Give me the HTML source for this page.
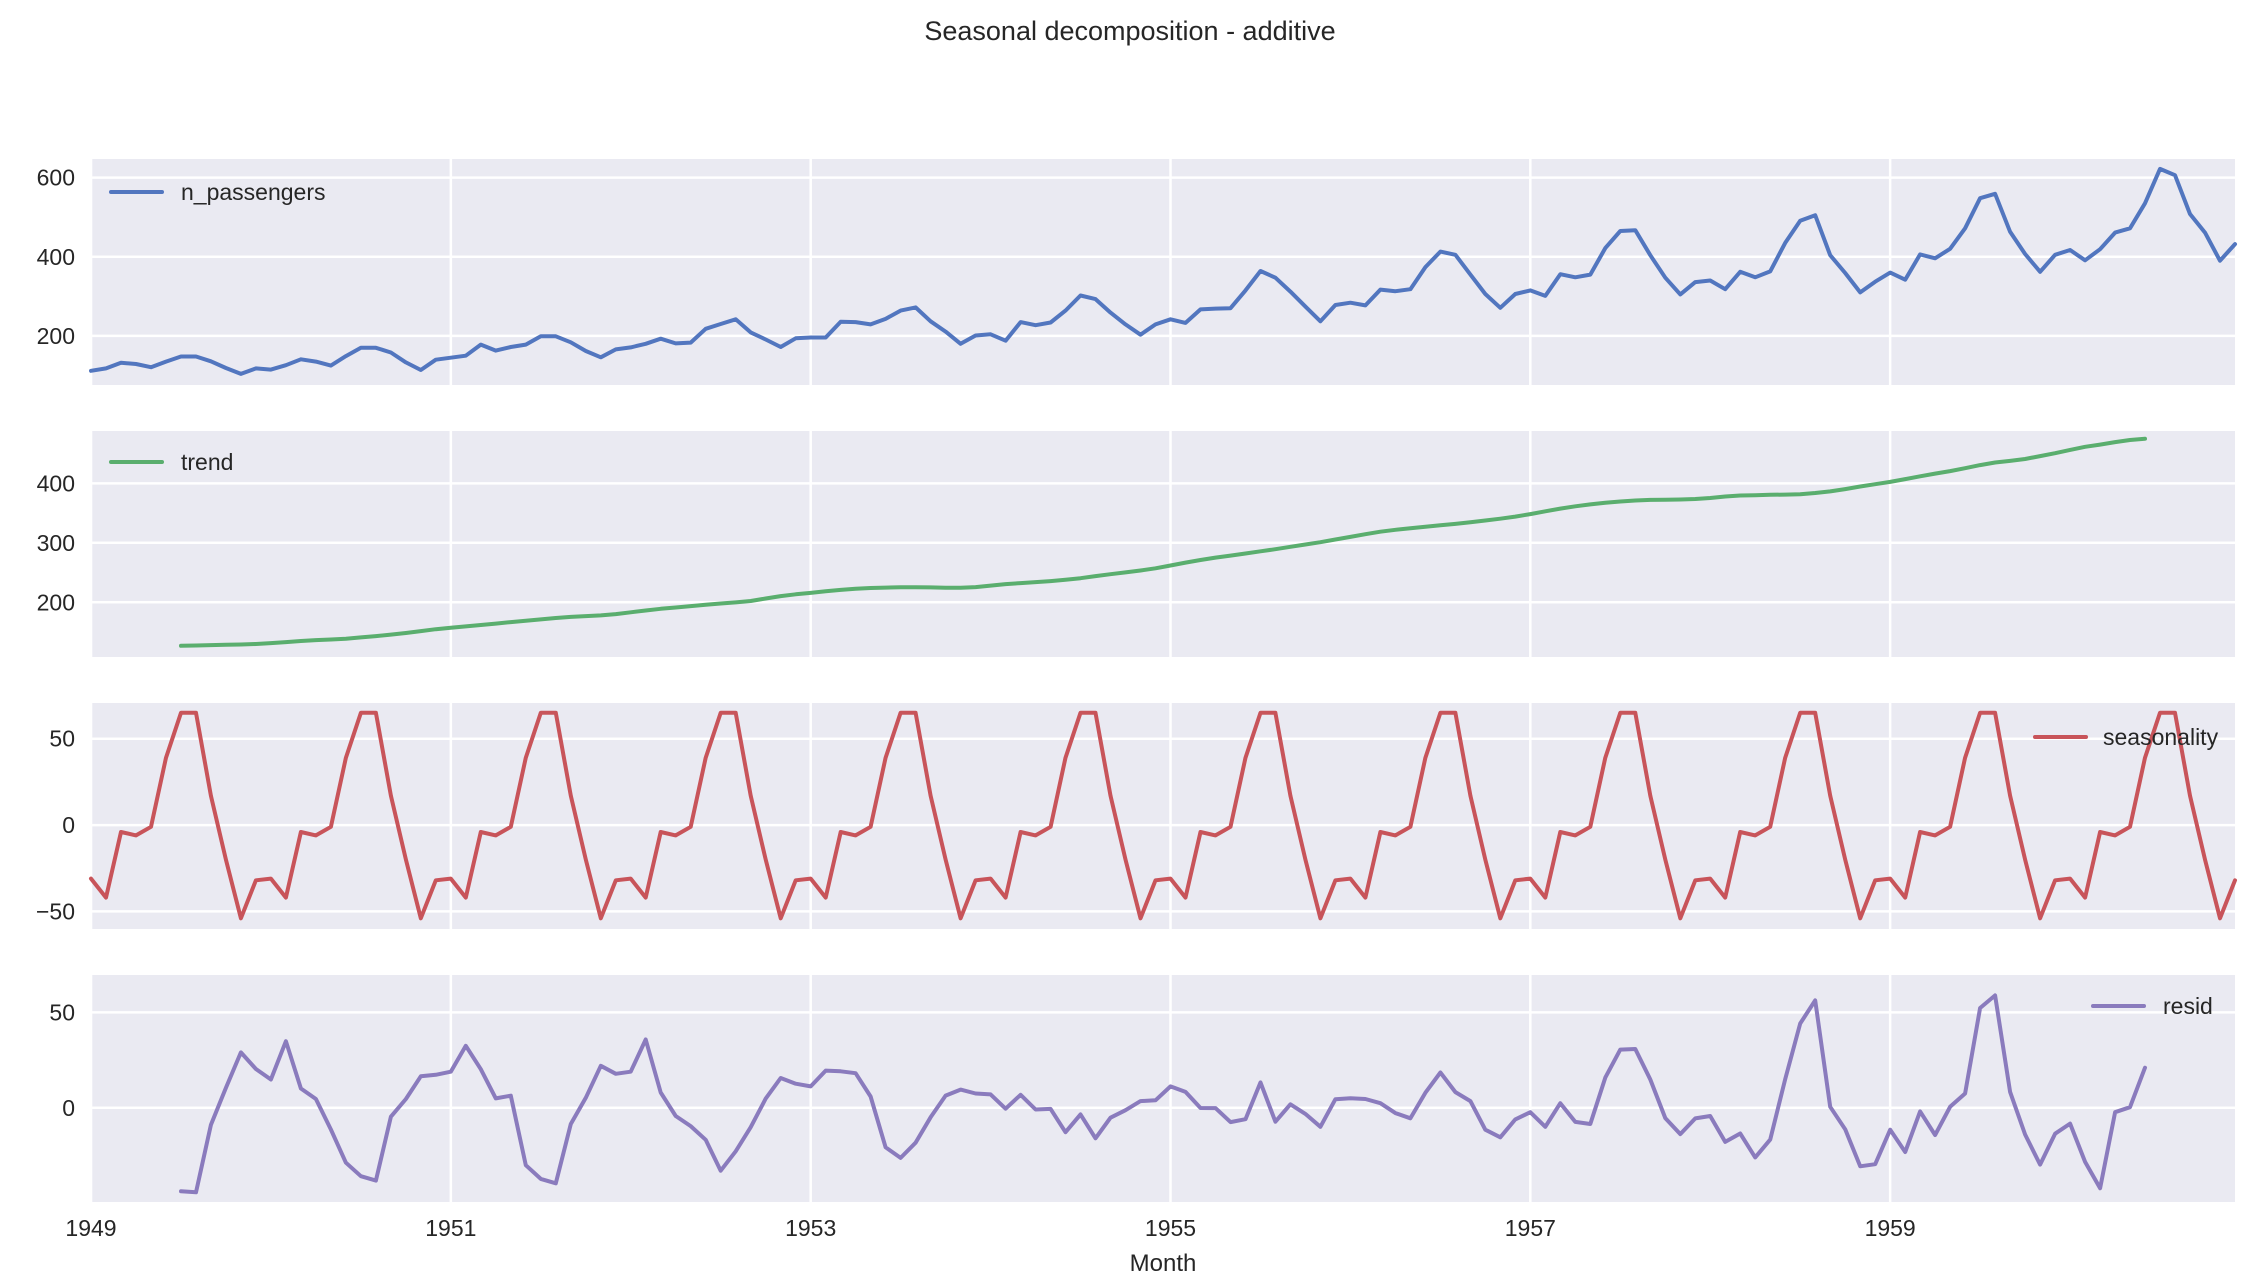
<!DOCTYPE html>
<html><head><meta charset="utf-8">
<style>
html,body{margin:0;padding:0;background:#fff;}
svg{display:block;font-family:"Liberation Sans",sans-serif;}
</style></head>
<body>
<svg id="chart" width="2260" height="1288" viewBox="0 0 2260 1288">
<text x="1130" y="40" text-anchor="middle" font-size="27" fill="#262626">Seasonal decomposition - additive</text>
<text x="1163" y="1271" text-anchor="middle" font-size="24" fill="#262626">Month</text>
</svg>
<script>
const years = [1949,1951,1953,1955,1957,1959];
const passengers = [112,118,132,129,121,135,148,148,136,119,104,118,
115,126,141,135,125,149,170,170,158,133,114,140,
145,150,178,163,172,178,199,199,184,162,146,166,
171,180,193,181,183,218,230,242,209,191,172,194,
196,196,236,235,229,243,264,272,237,211,180,201,
204,188,235,227,234,264,302,293,259,229,203,229,
242,233,267,269,270,315,364,347,312,274,237,278,
284,277,317,313,318,374,413,405,355,306,271,306,
315,301,356,348,355,422,465,467,404,347,305,336,
340,318,362,348,363,435,491,505,404,359,310,337,
360,342,406,396,420,472,548,559,463,407,362,405,
417,391,419,461,472,535,622,606,508,461,390,432];
const trendStart = 6;
const trend = [126.8,127.3,128.0,128.6,129.0,129.8,131.3,133.1,134.9,136.4,137.4,138.8,
140.9,143.2,145.7,148.4,151.5,154.7,157.1,159.5,161.8,164.1,166.7,169.1,
171.3,173.6,175.5,176.8,178.0,180.2,183.1,186.2,189.0,191.3,193.6,195.8,
198.0,199.8,202.2,206.3,210.4,213.4,215.8,218.5,220.9,222.9,224.1,224.7,
225.3,225.3,225.0,224.6,224.5,225.5,228.0,230.5,232.3,233.9,235.6,237.8,
240.5,244.0,247.2,250.3,253.5,257.1,261.8,266.7,271.1,275.2,278.5,282.0,
285.8,289.3,293.3,297.2,301.0,305.5,310.0,314.4,318.6,321.8,324.5,327.1,
329.5,331.8,334.5,337.5,340.5,344.1,348.3,353.0,357.6,361.4,364.5,367.2,
369.5,371.2,372.2,372.4,372.8,373.6,375.3,377.9,379.5,380.0,380.7,381.0,
381.8,383.7,386.5,390.3,394.7,398.6,402.5,407.2,411.9,416.3,420.5,425.5,
430.7,435.1,437.7,441.0,445.8,450.6,456.3,461.4,465.2,469.3,472.8,475.0];
const seasonPattern = [-31,-42,-4,-6,-1,39,65,65,17,-20,-54,-32];
const resid = [-43.8,-44.3,-9.0,10.4,29.0,20.3,14.8,34.9,10.1,4.6,-11.4,-28.8,
-35.9,-38.2,-4.7,4.6,16.5,17.3,18.9,32.5,20.2,4.9,6.3,-30.1,
-37.3,-39.6,-8.5,5.2,22.0,17.8,18.9,35.8,8.0,-4.3,-9.6,-16.8,
-33.0,-22.8,-10.2,4.8,15.6,12.6,11.2,19.5,19.1,18.1,5.9,-20.7,
-26.3,-18.3,-5.0,6.4,9.5,7.5,7.0,-0.5,6.8,-0.9,-0.6,-12.8,
-3.5,-16.0,-5.2,-1.3,3.5,3.9,11.2,8.3,-0.1,-0.2,-7.5,-6.0,
13.3,-7.3,1.8,-3.2,-10.0,4.5,5.0,4.6,2.4,-2.8,-5.5,7.9,
18.5,8.2,3.5,-11.5,-15.5,-6.1,-2.3,-10.0,2.4,-7.4,-8.5,15.8,
30.5,30.8,14.8,-5.4,-13.8,-5.6,-4.3,-17.9,-13.5,-26.0,-16.7,15.0,
44.2,56.3,0.5,-11.3,-30.7,-29.6,-11.5,-23.2,-1.9,-14.3,0.5,7.5,
52.3,58.9,8.3,-14.0,-29.8,-13.6,-8.3,-28.4,-42.2,-2.3,0.3,21.0];
const ticks1 = [200,400,600];
const ticks2 = [200,300,400];
const ticks3 = [-50,0,50];
const ticks4 = [0,50];

const NS = 'http://www.w3.org/2000/svg';
const svg = document.getElementById('chart');
const L = 91, R = 2235;
function x(i){ return L + i*(R-L)/143; }
function mk(tag, attrs, parent){
  const e = document.createElementNS(NS, tag);
  for (const k in attrs) e.setAttribute(k, attrs[k]);
  (parent||svg).appendChild(e);
  return e;
}
const panels = [
  {top:159,bottom:385,min:76,max:647,ticks:ticks1,name:'n_passengers',color:'#5276bf',legend:'left',ly:192},
  {top:431,bottom:657,min:108,max:488,ticks:ticks2,name:'trend',color:'#5aae6e',legend:'left',ly:462},
  {top:703,bottom:929,min:-60.2,max:70.7,ticks:ticks3,name:'seasonality',color:'#c8545a',legend:'right',ly:737},
  {top:975,bottom:1202,min:-49.4,max:69.6,ticks:ticks4,name:'resid',color:'#8a7bbd',legend:'right',ly:1006}
];
const seriesList = [
  passengers.map((v,i)=>[i,v]),
  trend.map((v,i)=>[i+trendStart,v]),
  passengers.map((v,i)=>[i,seasonPattern[i%12]]),
  resid.map((v,i)=>[i+trendStart,v])
];
panels.forEach((p,pi)=>{
  const g = mk('g',{});
  
  
  const y = v => p.bottom - (v-p.min)/(p.max-p.min)*(p.bottom-p.top);
  const bg = mk('rect',{x:L,y:p.top,width:R-L,height:p.bottom-p.top,fill:'#eaeaf2'},g);
  
  
  p.ticks.forEach(t=>{
    const yy = y(t);
    const gl = mk('line',{x1:L,x2:R,y1:yy,y2:yy,stroke:'#fff','stroke-width':2.5},g);
    
    
    const tl = mk('text',{x:L-16,y:yy+8,'text-anchor':'end','font-size':23,fill:'#262626'},g);
    tl.textContent = t<0 ? '\u2212'+Math.abs(t) : String(t);
    
    
  });
  years.forEach(yr=>{
    const xx = x((yr-1949)*12);
    const vl = mk('line',{x1:xx,x2:xx,y1:p.top,y2:p.bottom,stroke:'#fff','stroke-width':2.5},g);
    
    
  });
  const pts = seriesList[pi].map(d=>x(d[0]).toFixed(1)+','+y(d[1]).toFixed(1)).join(' ');
  const line = mk('polyline',{points:pts,fill:'none',stroke:p.color,'stroke-width':4,'stroke-linejoin':'round','stroke-linecap':'round'},g);
  
  
  let lx1, lx2, tx;
  if (p.legend==='left'){ lx1=111; lx2=162; tx=181; }
  else if (p.name==='seasonality'){ lx1=2035; lx2=2086; tx=2103; }
  else { lx1=2093; lx2=2144; tx=2163; }
  const lg = mk('g',{},g);
  
  
  mk('line',{x1:lx1,x2:lx2,y1:p.ly,y2:p.ly,stroke:p.color,'stroke-width':4,'stroke-linecap':'round'},lg);
  const lt = mk('text',{x:tx,y:p.ly+8,'font-size':23,fill:'#262626'},lg);
  lt.textContent = p.name;
});
years.forEach(yr=>{
  const t = mk('text',{x:x((yr-1949)*12),y:1236,'text-anchor':'middle','font-size':23,fill:'#262626'});
  t.textContent = String(yr);
  
  
});
</script>
</body></html>
